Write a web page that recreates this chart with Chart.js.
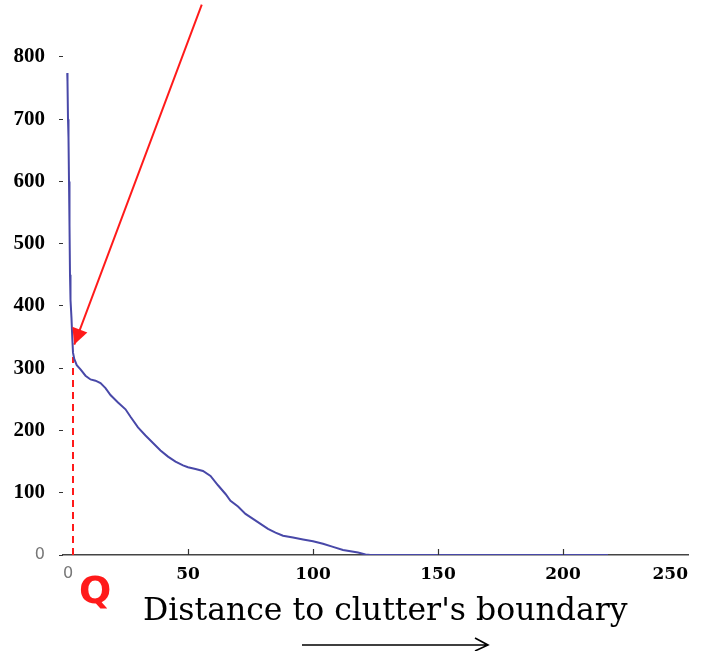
<!DOCTYPE html>
<html>
<head>
<meta charset="utf-8">
<script src="https://cdn.jsdelivr.net/npm/chart.js"></script>
<style>
  html, body { margin: 0; padding: 0; background: #fff; }
</style>
</head>
<body>
<canvas id="chart" width="704" height="651"></canvas>
<script>
// Courbe : nombre de points en fonction de la distance au bord du clutter
const distances = [1.7, 1.8, 2, 2.2, 2.4, 2.6, 2.8, 3, 3.4, 3.7, 4, 4.5, 5.5, 7, 9, 11, 13, 15, 17, 19, 22, 25, 27, 30, 33, 36, 39, 42, 45, 48, 50, 53, 56, 59, 62, 65, 67, 70, 73, 76, 79, 82, 85, 88, 92, 96, 100, 104, 108, 112, 115, 118, 121, 123, 150, 180, 200, 218];
const counts = [774, 760, 700, 670, 600, 530, 450, 410, 380, 350, 325, 315, 305, 298, 288, 282, 280, 276, 268, 257, 245, 234, 222, 205, 192, 180, 168, 158, 150, 144, 141, 138, 135, 127, 112, 98, 87, 78, 66, 58, 50, 42, 36, 31, 28, 25, 22, 18, 13, 8, 6, 4, 1, 0, 0, 0, 0, 0];

// Flèche rouge (départ hors du cadre, pointe sur la courbe)
const arrowX = [55.5, 4.5];
const arrowY = [884, 338];

// Seuil Q en pointillés
const thresholdX = [4, 4];
const thresholdY = [0, 318];

const xTicks = [0, 50, 100, 150, 200, 250];
const yTicks = [0, 100, 200, 300, 400, 500, 600, 700, 800];
const axisTitle = "Distance to clutter's boundary";
const thresholdLabel = 'Q';

const toPoints = (xs, ys) => xs.map((x, i) => ({ x: x, y: ys[i] }));

const xFont = { family: '"DejaVu Serif", serif', weight: 'bold', size: 17 };
const yFont = { family: '"Liberation Serif", serif', weight: 'bold', size: 21 };
const zeroFont = { family: '"DejaVu Sans", sans-serif', size: 16 };

// Décorations : petits traits de l'axe x, pointe de flèche, titre, Q, flèche du bas
const decorations = {
    id: 'decorations',
    afterDatasetsDraw(chart) {
        const ctx = chart.ctx;
        const xs = chart.scales.x;
        const ys = chart.scales.y;
        const base = ys.getPixelForValue(0);

        ctx.save();
        // traits vers l'intérieur sur l'axe x
        ctx.strokeStyle = '#333';
        ctx.lineWidth = 1.2;
        xTicks.slice(1, -1).forEach(v => {
            const px = Math.round(xs.getPixelForValue(v)) + 0.5;
            ctx.beginPath();
            ctx.moveTo(px, base);
            ctx.lineTo(px, base - 6);
            ctx.stroke();
        });

        // pointe de la flèche rouge
        const n = arrowX.length;
        const tipX = xs.getPixelForValue(arrowX[n - 1]);
        const tipY = ys.getPixelForValue(arrowY[n - 1]);
        const fromX = xs.getPixelForValue(arrowX[n - 2]);
        const fromY = ys.getPixelForValue(arrowY[n - 2]);
        const ang = Math.atan2(tipY - fromY, tipX - fromX);
        const len = 16, half = 8;
        ctx.fillStyle = '#ff1a1a';
        ctx.beginPath();
        ctx.moveTo(tipX, tipY);
        ctx.lineTo(tipX - len * Math.cos(ang) + half * Math.sin(ang), tipY - len * Math.sin(ang) - half * Math.cos(ang));
        ctx.lineTo(tipX - len * Math.cos(ang) - half * Math.sin(ang), tipY - len * Math.sin(ang) + half * Math.cos(ang));
        ctx.closePath();
        ctx.fill();

        // Q rouge
        ctx.fillStyle = '#ff1a1a';
        ctx.font = 'bold 38px "DejaVu Sans", sans-serif';
        ctx.textAlign = 'left';
        ctx.textBaseline = 'alphabetic';
        ctx.fillText(thresholdLabel, 79, 603);

        // titre de l'axe
        ctx.fillStyle = '#000';
        ctx.font = '31.5px "DejaVu Serif", serif';
        ctx.fillText(axisTitle, 143, 620);

        // flèche noire du bas
        ctx.strokeStyle = '#000';
        ctx.lineWidth = 1.6;
        ctx.beginPath();
        ctx.moveTo(302, 645);
        ctx.lineTo(488, 645);
        ctx.moveTo(475, 638);
        ctx.lineTo(488, 645);
        ctx.lineTo(475, 651);
        ctx.stroke();
        ctx.restore();
    }
};

new Chart(document.getElementById('chart'), {
    type: 'line',
    data: {
        datasets: [
            {
                data: toPoints(distances, counts),
                borderColor: '#4848a8',
                borderWidth: 2,
                pointRadius: 0,
                tension: 0
            },
            {
                data: toPoints(arrowX, arrowY),
                borderColor: '#ff1a1a',
                borderWidth: 2,
                pointRadius: 0,
                clip: false
            },
            {
                data: toPoints(thresholdX, thresholdY),
                borderColor: '#ff1a1a',
                borderWidth: 2,
                borderDash: [7, 5],
                pointRadius: 0
            }
        ]
    },
    options: {
        responsive: false,
        devicePixelRatio: 1,
        animation: false,
        layout: { padding: { left: 0, right: 16, top: 4, bottom: 0 } },
        plugins: { legend: { display: false }, tooltip: { enabled: false } },
        scales: {
            x: {
                type: 'linear',
                min: 0,
                max: 250,
                afterBuildTicks: s => { s.ticks = xTicks.map(v => ({ value: v })); },
                afterFit: s => { s.height = 96; s.paddingLeft = 0; s.paddingRight = 0; },
                grid: { display: false, drawTicks: false },
                border: { display: true, color: '#444', width: 1.5 },
                ticks: {
                    padding: 9,
                    maxRotation: 0,
                    align: 'inner',
                    color: c => c.tick && c.tick.value === 0 ? '#777' : '#000',
                    font: c => c.tick && c.tick.value === 0 ? zeroFont : xFont
                }
            },
            y: {
                type: 'linear',
                min: 0,
                max: 885,
                afterBuildTicks: s => { s.ticks = yTicks.map(v => ({ value: v })); },
                afterFit: s => { s.width = 63; s.paddingTop = 0; s.paddingBottom = 0; },
                grid: { drawOnChartArea: false, tickLength: 4, color: '#333' },
                border: { display: false },
                ticks: {
                    padding: 14,
                    color: c => c.tick && c.tick.value === 0 ? '#777' : '#000',
                    font: c => c.tick && c.tick.value === 0 ? zeroFont : yFont
                }
            }
        }
    },
    plugins: [decorations]
});
</script>
</body>
</html>
